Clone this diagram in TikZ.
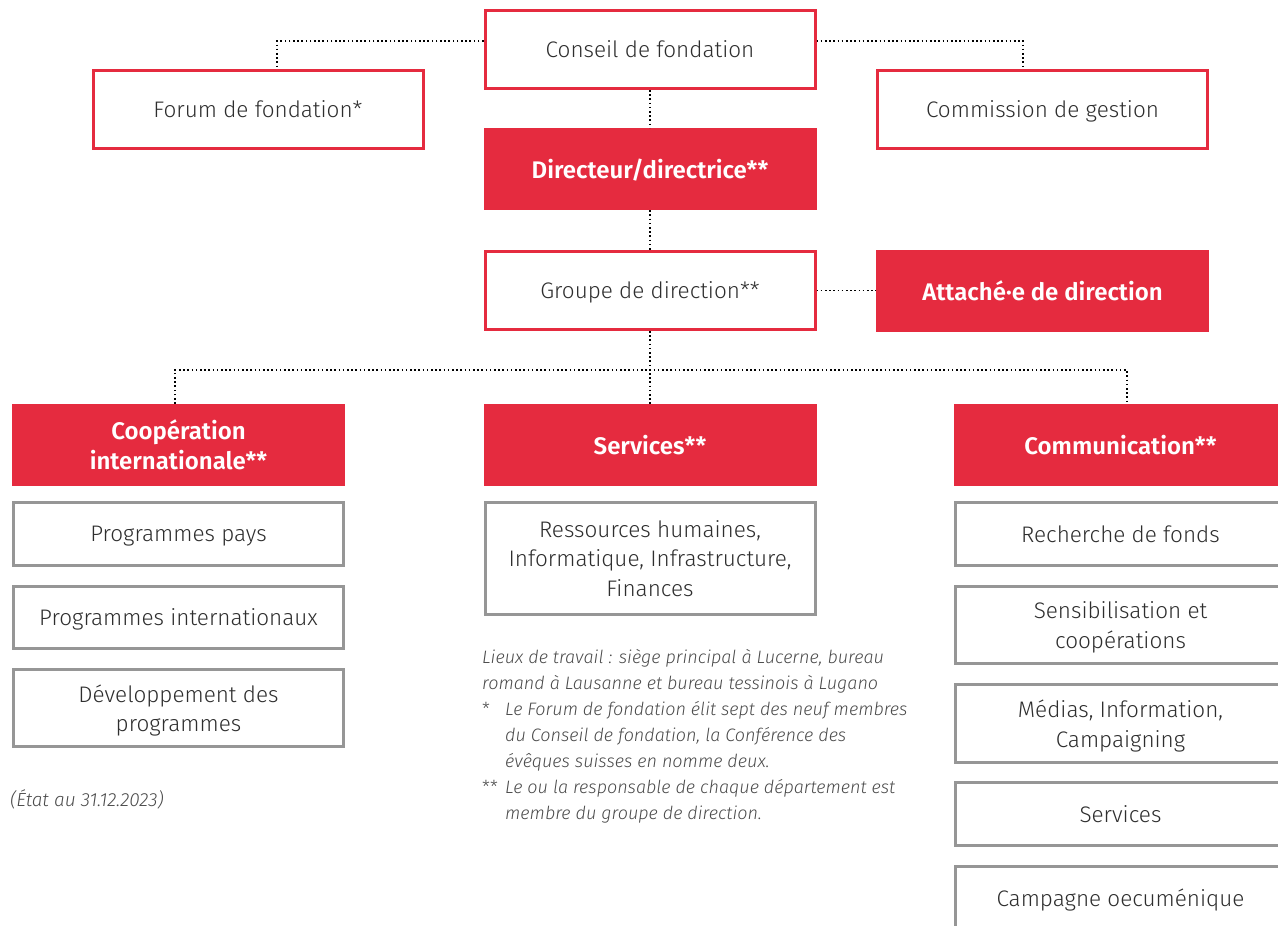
\documentclass[tikz,border=0pt]{standalone}
\usepackage{fontspec}
\setmainfont{Fira Sans}[UprightFont=* Light, ItalicFont=* Light Italic, BoldFont=* SemiBold]
\definecolor{rd}{HTML}{E52B3F}
\definecolor{txt}{HTML}{2E2E2E}
\definecolor{gr}{HTML}{969696}
\definecolor{note}{HTML}{4A4A4A}
\begin{document}
\begin{tikzpicture}[x=1pt,y=-1pt,
  wbox/.style={draw=rd, line width=3pt, fill=white, minimum width=330pt, minimum height=78pt, inner sep=0pt, text depth=0pt, text=txt, font=\fontsize{22.5}{29}\selectfont, align=center},
  rbox/.style={fill=rd, minimum width=333pt, minimum height=82pt, inner sep=0pt, text depth=0pt, text=white, font=\fontsize{24}{30}\selectfont\bfseries, align=center},
  gbox/.style={draw=gr, line width=3pt, fill=white, minimum width=330pt, minimum height=#1-3pt, inner sep=0pt, text depth=0pt, text=txt, font=\fontsize{22.5}{29.5}\selectfont, align=center},
  conn/.style={line width=1.6pt, dash pattern=on 1.6pt off 2.6pt, black}]
\useasboundingbox (0,0) rectangle (1278,926);
\clip (0,0) rectangle (1278,926);

% top level
\node[wbox] (conseil) at (650,49.5) {Conseil de fondation};
\node[wbox] (forum) at (258,109.5) {Forum de fondation*};
\node[wbox] (commission) at (1042.5,109.5) {Commission de gestion};
\node[rbox] (dir) at (650,169) {Directeur/directrice**};
\node[wbox] (groupe) at (650,290.5) {Groupe de direction**};
\node[rbox] (attache) at (1042.5,290.5) {Attaché·e de direction};

% departments
\node[rbox] (coop) at (178.5,445) {Coopération\\internationale**};
\node[rbox] (serv) at (650,445) {Services**};
\node[rbox] (comm) at (1120.5,445) {Communication**};

% sub units left
\node[gbox=66] (pp) at (178.5,534) {Programmes pays};
\node[gbox=65] (pi) at (178.5,617.5) {Programmes internationaux};
\node[gbox=80] (dp) at (178.5,708) {Développement des\\programmes};

% sub units middle
\node[gbox=115] (rh) at (650,558.5) {Ressources humaines,\\Informatique, Infrastructure,\\Finances};

% sub units right
\node[gbox=66] (rf) at (1120.5,534) {Recherche de fonds};
\node[gbox=80] (sc) at (1120.5,625) {Sensibilisation et\\coopérations};
\node[gbox=81] (mi) at (1120.5,723.5) {Médias, Information,\\Campaigning};
\node[gbox=66] (sv) at (1120.5,814) {Services};
\node[gbox=66] (co) at (1120.5,898) {Campagne oecuménique};

% connectors
\coordinate (tl) at (277,41);
\coordinate (tr) at (1023,41);
\draw[conn] (conseil.west |- tl) -- (tl) -- (tl |- forum.north);
\draw[conn] (conseil.east |- tr) -- (tr) -- (tr |- commission.north);
\draw[conn] (conseil.south) -- (dir.north);
\draw[conn] (dir.south) -- (groupe.north);
\draw[conn] (groupe.east) -- (attache.west);
\coordinate (hl) at (175,370);
\coordinate (hr) at (1127,370);
\draw[conn] (groupe.south) -- (serv.north);
\draw[conn] (hl |- coop.north) -- (hl) -- (hr) -- (hr |- comm.north);

% notes
\node[anchor=north west, inner sep=0pt, text=note, font=\fontsize{18}{26}\selectfont\itshape, align=left] (notes) at (482,649)
{Lieux de travail : siège principal à Lucerne, bureau\\
romand à Lausanne et bureau tessinois à Lugano\\
\makebox[23pt][l]{\upshape*}Le Forum de fondation élit sept des neuf membres\\
\hspace*{23pt}du Conseil de fondation, la Conférence des\\
\hspace*{23pt}évêques suisses en nomme deux.\\
\makebox[23pt][l]{\upshape**}Le ou la responsable de chaque département est\\
\hspace*{23pt}membre du groupe de direction.};
\node[anchor=west, inner sep=0pt, text=note, font=\fontsize{19}{26}\selectfont\itshape] (etat) at (10,799) {(État au 31.12.2023)};
\end{tikzpicture}
\end{document}
